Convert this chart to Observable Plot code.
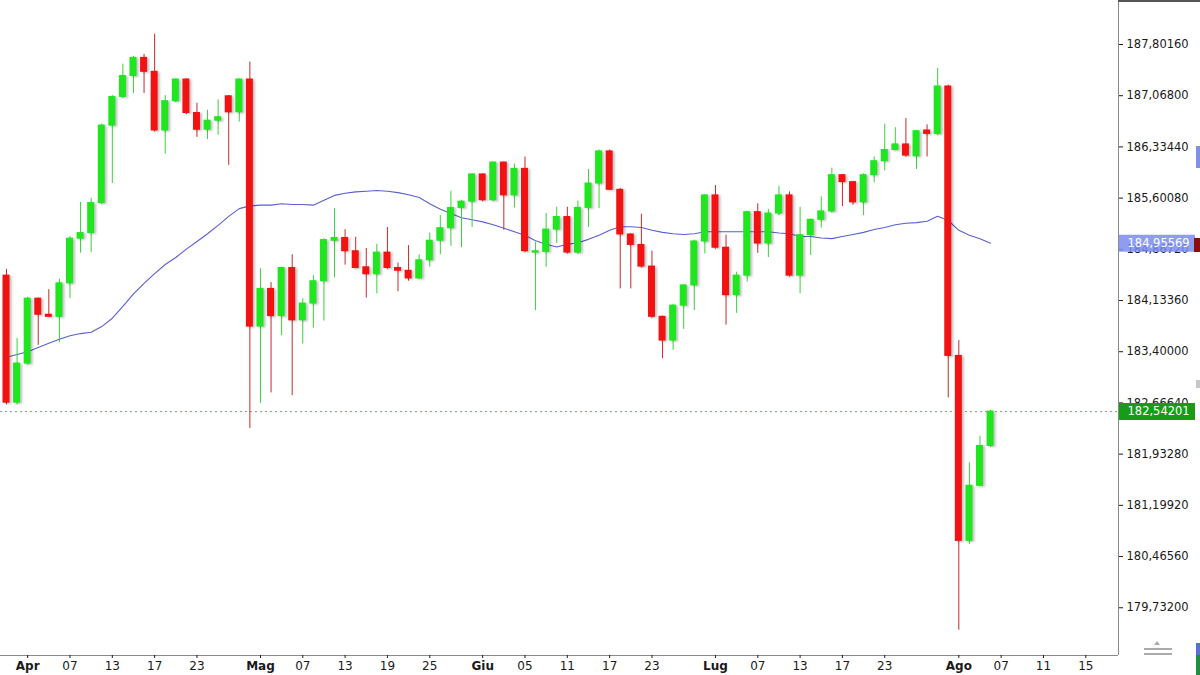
<!DOCTYPE html>
<html><head><meta charset="utf-8">
<script src="https://cdn.jsdelivr.net/npm/d3@7"></script>
<script src="https://cdn.jsdelivr.net/npm/@observablehq/plot@0.6"></script>
<style>
html,body{margin:0;padding:0;background:#fff;}
#wrap{position:relative;width:1200px;height:675px;overflow:hidden;background:#fff;}
.chrome{position:absolute;}
</style></head><body>
<div id="wrap"></div>
<script>
// ---- data: one entry per daily bar (index 0 .. 93) ----
const open = [184.49,182.67,183.23,184.16,183.93,183.90,184.38,185.02,185.10,185.53,
186.64,187.05,187.35,187.61,187.41,186.57,186.99,187.30,186.82,186.58,
186.71,187.06,186.83,187.30,183.76,184.30,183.91,184.60,183.85,184.09,
184.41,184.99,185.03,184.84,184.61,184.51,184.82,184.60,184.56,184.45,
184.71,184.99,185.17,185.46,185.55,185.94,185.57,186.11,185.64,186.02,
184.82,184.83,185.15,185.33,184.82,185.46,185.81,186.27,185.72,185.08,
184.93,184.62,183.90,183.56,184.06,184.35,184.98,185.64,184.89,184.21,
184.49,185.40,184.95,185.38,185.64,184.49,185.07,185.29,185.41,185.93,
185.83,185.54,185.93,186.13,186.29,186.37,186.20,186.57,186.52,187.20,
183.34,180.69,181.48,182.05];

const high = [184.58,183.59,184.18,184.17,184.29,184.44,185.05,185.54,185.60,186.66,
187.07,187.52,187.63,187.66,187.95,187.07,187.31,187.31,186.96,186.86,
187.01,187.07,187.31,187.55,184.59,184.39,184.61,184.79,184.16,184.49,
185.02,185.45,185.15,185.04,184.88,184.94,185.18,184.67,184.92,184.79,
185.10,185.35,185.70,185.57,185.95,185.95,186.12,186.12,186.09,186.19,
184.97,185.38,185.47,185.47,185.56,186.01,186.29,186.29,185.74,185.09,
185.37,184.84,183.91,184.08,184.36,185.00,185.65,185.78,185.07,184.54,
185.41,185.52,185.44,185.77,185.69,185.47,185.30,185.62,186.03,185.94,
185.84,185.95,186.19,186.66,186.61,186.74,186.57,186.65,187.46,187.22,
183.56,181.81,182.19,182.56];

const low = [182.64,182.64,183.21,183.49,183.89,183.53,184.16,184.81,184.82,185.51,
185.81,187.03,187.10,187.10,186.55,186.23,186.97,186.80,186.47,186.44,
186.50,186.07,186.69,182.30,182.66,182.81,183.63,182.77,183.51,183.74,
183.84,184.46,184.64,184.59,184.17,184.23,184.58,184.26,184.41,184.44,
184.61,184.79,184.91,184.89,185.18,185.55,185.55,185.14,185.46,184.82,
183.99,184.61,184.95,184.80,184.80,185.18,185.45,185.71,184.30,184.30,
184.60,183.88,183.30,183.42,183.72,183.99,184.80,184.87,183.78,183.95,
184.40,184.81,184.75,185.35,184.47,184.23,184.78,185.17,185.39,185.48,
185.50,185.35,185.82,185.99,186.28,186.19,186.01,186.19,186.50,182.74,
179.41,180.64,181.47,182.03];

const close = [182.67,183.23,184.16,183.93,183.90,184.38,185.02,185.10,185.53,186.64,
187.05,187.35,187.61,187.41,186.57,186.99,187.30,186.82,186.58,186.71,
186.76,186.83,187.30,183.76,184.30,183.91,184.60,183.85,184.09,184.41,
185.00,185.03,184.84,184.60,184.51,184.82,184.60,184.56,184.45,184.71,
184.99,185.17,185.46,185.55,185.94,185.57,186.11,185.64,186.02,184.84,
184.84,185.15,185.33,184.82,185.46,185.81,186.27,185.72,185.08,184.93,
184.62,183.90,183.56,184.06,184.35,184.98,185.64,184.89,184.21,184.49,
185.40,184.95,185.38,185.64,184.49,185.07,185.29,185.41,185.93,185.83,
185.54,185.93,186.13,186.29,186.37,186.21,186.56,186.52,187.20,183.34,
180.69,181.48,182.05,182.54201];

// moving average, one value per bar
const ma = [183.32,183.36,183.40,183.46,183.52,183.58,183.63,183.66,183.68,183.76,
183.88,184.05,184.23,184.38,184.52,184.65,184.75,184.87,184.98,185.09,
185.21,185.34,185.45,185.49,185.50,185.50,185.52,185.51,185.51,185.50,
185.57,185.64,185.67,185.69,185.70,185.71,185.70,185.68,185.65,185.61,
185.52,185.44,185.38,185.32,185.29,185.26,185.22,185.17,185.12,185.07,
184.99,184.94,184.90,184.94,184.96,185.01,185.07,185.14,185.19,185.19,
185.18,185.14,185.11,185.09,185.08,185.09,185.12,185.12,185.12,185.12,
185.12,185.12,185.12,185.10,185.09,185.05,185.05,185.03,185.02,185.05,
185.08,185.11,185.15,185.18,185.22,185.24,185.25,185.27,185.34,185.28,
185.14,185.07,185.02,184.95569];

// x-axis ticks: bar index and label
const tickPos    = [2, 6, 10, 14, 18, 24, 28, 32, 36, 40, 45, 49, 53, 57, 61, 67, 71, 75, 79, 83, 90, 94, 98, 102];
const tickLabels = ["Apr","07","13","17","23","Mag","07","13","19","25","Giu","05","11","17","23","Lug","07","13","17","23","Ago","07","11","15"];

// y-axis ticks
const yTicks = [179.732, 180.4656, 181.1992, 181.9328, 182.6664, 183.4, 184.1336, 184.8672, 185.6008, 186.3344, 187.068, 187.8016];

// ---- build ----
const bars = open.map((o, i) => ({i, open: o, high: high[i], low: low[i], close: close[i]}));
const up = bars.filter(d => d.close >= d.open);
const down = bars.filter(d => d.close < d.open);
const maData = ma.map((v, i) => ({i, v}));
const lastClose = close[close.length - 1];
const lastMa = ma[ma.length - 1];
const fmt = v => d3.format(".5f")(v).replace(".", ",");
const labelOf = new Map(tickPos.map((p, k) => [p, tickLabels[k]]));
const isMonth = l => isNaN(+l);
const monthTicks = tickPos.filter((p, k) => isMonth(tickLabels[k]));
const dayTicks = tickPos.filter((p, k) => !isMonth(tickLabels[k]));

const X_DOMAIN = [-0.567, 105.09];
const Y_DOMAIN = [179.048, 188.432];
const GREEN = "#1fe61f", RED = "#f21212";
const hw = 0.33;

const chart = Plot.plot({
  width: 1200, height: 675,
  marginLeft: 0, marginRight: 82, marginTop: 0, marginBottom: 20,
  style: {fontFamily: "'DejaVu Sans', sans-serif", fontSize: "11.5px", color: "#1a1a1a", background: "#fff", overflow: "visible"},
  x: {type: "linear", domain: X_DOMAIN, axis: null, label: null},
  y: {domain: Y_DOMAIN, axis: null, label: null},
  marks: [
    Plot.ruleY([lastClose], {stroke: "#7f9a7f", strokeDasharray: "2,3"}),
    Plot.line(maData, {x: "i", y: "v", stroke: "#5a5fd2", strokeWidth: 1.1}),
    Plot.ruleX(up, {x: "i", y1: "low", y2: "high", stroke: "#3ad23a", strokeWidth: 1}),
    Plot.ruleX(down, {x: "i", y1: "low", y2: "high", stroke: "#c42a2a", strokeWidth: 1}),
    Plot.rect(up, {x1: d => d.i - hw, x2: d => d.i + hw, y1: "open", y2: "close", fill: GREEN, insetTop: -0.5, insetBottom: -0.5}),
    Plot.rect(down, {x1: d => d.i - hw, x2: d => d.i + hw, y1: "open", y2: "close", fill: RED, insetTop: -0.5, insetBottom: -0.5}),
    Plot.ruleY([Y_DOMAIN[0]], {stroke: "#8a8a8a"}),
    Plot.ruleX([X_DOMAIN[1]], {stroke: "#8a8a8a"}),
    Plot.axisY(yTicks, {anchor: "right", tickSize: 4, tickPadding: 4, tickFormat: fmt, fontSize: 11.5, label: null}),
    Plot.axisX(dayTicks, {anchor: "bottom", tickSize: 3, tickPadding: 3, tickFormat: p => labelOf.get(p), fontSize: 12, label: null}),
    Plot.axisX(monthTicks, {anchor: "bottom", tickSize: 3, tickPadding: 3, tickFormat: p => labelOf.get(p), fontSize: 12, fontWeight: "bold", label: null}),
    Plot.ruleY([lastMa], {stroke: "#7a8cf0", strokeOpacity: 0.85, strokeWidth: 17, insetLeft: 1119, insetRight: -77}),
    Plot.text([lastMa], {y: d => d, text: d => fmt(d), frameAnchor: "right", dx: 9, textAnchor: "start", fill: "#fff", fontSize: 11.5}),
    Plot.ruleY([lastClose], {stroke: "#169c16", strokeWidth: 17, insetLeft: 1119, insetRight: -77}),
    Plot.text([lastClose], {y: d => d, text: d => fmt(d), frameAnchor: "right", dx: 9, textAnchor: "start", fill: "#fff", fontSize: 11.5})
  ]
});

d3.select(chart).selectAll('g[aria-label="rect"]')
  .style("filter", "drop-shadow(2px 1px 1px rgba(0,0,0,0.25))");

const wrap = document.getElementById("wrap");
wrap.appendChild(chart);

// terminal chrome around the price scale
const chrome = [
  {l: 1118, t: 0, w: 82, h: 2, bg: "#555"},
  {l: 1196, t: 146, w: 4, h: 22, bg: "#8090e8"},
  {l: 1194, t: 238, w: 6, h: 14, bg: "#8b0c0c"},
  {l: 1196, t: 380, w: 4, h: 8, bg: "#c8c8c8"},
  {l: 1196, t: 643, w: 4, h: 12, bg: "#5a6fd0"},
  {l: 1196, t: 655, w: 4, h: 20, bg: "#1f8f3f"},
  {l: 1144, t: 648, w: 28, h: 2, bg: "#aaa"},
  {l: 1144, t: 653, w: 28, h: 2, bg: "#aaa"}
];
chrome.forEach(c => {
  const d = document.createElement("div");
  d.className = "chrome";
  Object.assign(d.style, {left: c.l + "px", top: c.t + "px", width: c.w + "px", height: c.h + "px", background: c.bg});
  wrap.appendChild(d);
});
const tri = document.createElement("div");
tri.className = "chrome";
Object.assign(tri.style, {left: "1154px", top: "641px", width: "0", height: "0",
  borderLeft: "3px solid transparent", borderRight: "3px solid transparent", borderBottom: "4px solid #aaa"});
wrap.appendChild(tri);
</script>
</body></html>
